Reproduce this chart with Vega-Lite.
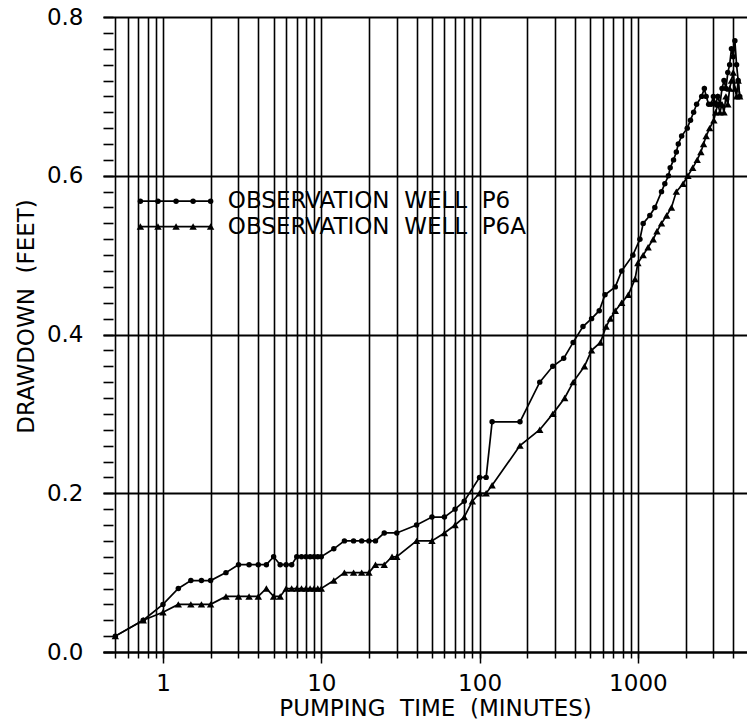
{
  "$schema": "https://vega.github.io/schema/vega-lite/v6.json",
  "width": 644,
  "height": 635,
  "autosize": {"type": "none"},
  "padding": {"left": 103, "top": 17, "right": 0, "bottom": 76},
  "background": "white",
  "config": {
    "view": {"stroke": null},
    "axis": {"labelFont": "DejaVu Sans", "labelFontSize": 23, "labelColor": "black", "titleFont": "DejaVu Sans", "titleFontSize": 23, "titleFontWeight": "normal", "titleColor": "black", "tickColor": "black", "domainColor": "black", "gridColor": "black", "gridOpacity": 1}
  },
  "datasets": {
    "obs": [
      {"series": "P6", "t": 0.5, "d": 0.02}, {"series": "P6", "t": 0.75, "d": 0.04}, {"series": "P6", "t": 1.0, "d": 0.06},
      {"series": "P6", "t": 1.25, "d": 0.08}, {"series": "P6", "t": 1.5, "d": 0.09}, {"series": "P6", "t": 1.75, "d": 0.09},
      {"series": "P6", "t": 2.0, "d": 0.09}, {"series": "P6", "t": 2.5, "d": 0.10}, {"series": "P6", "t": 3.0, "d": 0.11},
      {"series": "P6", "t": 3.5, "d": 0.11}, {"series": "P6", "t": 4.0, "d": 0.11}, {"series": "P6", "t": 4.5, "d": 0.11},
      {"series": "P6", "t": 5.0, "d": 0.12}, {"series": "P6", "t": 5.5, "d": 0.11}, {"series": "P6", "t": 6.0, "d": 0.11},
      {"series": "P6", "t": 6.5, "d": 0.11}, {"series": "P6", "t": 7.0, "d": 0.12}, {"series": "P6", "t": 7.5, "d": 0.12},
      {"series": "P6", "t": 8.0, "d": 0.12}, {"series": "P6", "t": 8.5, "d": 0.12}, {"series": "P6", "t": 9.0, "d": 0.12},
      {"series": "P6", "t": 9.5, "d": 0.12}, {"series": "P6", "t": 10, "d": 0.12}, {"series": "P6", "t": 12, "d": 0.13},
      {"series": "P6", "t": 14, "d": 0.14}, {"series": "P6", "t": 16, "d": 0.14}, {"series": "P6", "t": 18, "d": 0.14},
      {"series": "P6", "t": 20, "d": 0.14}, {"series": "P6", "t": 22, "d": 0.14}, {"series": "P6", "t": 25, "d": 0.15},
      {"series": "P6", "t": 30, "d": 0.15}, {"series": "P6", "t": 40, "d": 0.16}, {"series": "P6", "t": 50, "d": 0.17},
      {"series": "P6", "t": 60, "d": 0.17}, {"series": "P6", "t": 70, "d": 0.18}, {"series": "P6", "t": 80, "d": 0.19},
      {"series": "P6", "t": 100, "d": 0.22}, {"series": "P6", "t": 110, "d": 0.22}, {"series": "P6", "t": 120, "d": 0.29},
      {"series": "P6", "t": 180, "d": 0.29}, {"series": "P6", "t": 240, "d": 0.34}, {"series": "P6", "t": 290, "d": 0.36},
      {"series": "P6", "t": 340, "d": 0.37}, {"series": "P6", "t": 390, "d": 0.39}, {"series": "P6", "t": 450, "d": 0.41},
      {"series": "P6", "t": 510, "d": 0.42}, {"series": "P6", "t": 570, "d": 0.43}, {"series": "P6", "t": 620, "d": 0.45},
      {"series": "P6", "t": 720, "d": 0.46}, {"series": "P6", "t": 790, "d": 0.48}, {"series": "P6", "t": 930, "d": 0.50},
      {"series": "P6", "t": 1030, "d": 0.52}, {"series": "P6", "t": 1080, "d": 0.54}, {"series": "P6", "t": 1190, "d": 0.55},
      {"series": "P6", "t": 1280, "d": 0.56}, {"series": "P6", "t": 1410, "d": 0.58}, {"series": "P6", "t": 1480, "d": 0.59},
      {"series": "P6", "t": 1560, "d": 0.60}, {"series": "P6", "t": 1600, "d": 0.61}, {"series": "P6", "t": 1680, "d": 0.62},
      {"series": "P6", "t": 1750, "d": 0.63}, {"series": "P6", "t": 1800, "d": 0.64}, {"series": "P6", "t": 1890, "d": 0.65},
      {"series": "P6", "t": 2050, "d": 0.66}, {"series": "P6", "t": 2150, "d": 0.67}, {"series": "P6", "t": 2250, "d": 0.68},
      {"series": "P6", "t": 2350, "d": 0.69}, {"series": "P6", "t": 2530, "d": 0.70}, {"series": "P6", "t": 2630, "d": 0.71},
      {"series": "P6", "t": 2700, "d": 0.70}, {"series": "P6", "t": 2800, "d": 0.69}, {"series": "P6", "t": 2900, "d": 0.69},
      {"series": "P6", "t": 3000, "d": 0.70}, {"series": "P6", "t": 3100, "d": 0.69}, {"series": "P6", "t": 3200, "d": 0.70},
      {"series": "P6", "t": 3300, "d": 0.69}, {"series": "P6", "t": 3400, "d": 0.71}, {"series": "P6", "t": 3500, "d": 0.72},
      {"series": "P6", "t": 3600, "d": 0.71}, {"series": "P6", "t": 3700, "d": 0.73}, {"series": "P6", "t": 3800, "d": 0.74},
      {"series": "P6", "t": 3900, "d": 0.76}, {"series": "P6", "t": 4000, "d": 0.75}, {"series": "P6", "t": 4100, "d": 0.77},
      {"series": "P6", "t": 4200, "d": 0.74}, {"series": "P6", "t": 4300, "d": 0.72}, {"series": "P6", "t": 4400, "d": 0.70},
      {"series": "P6A", "t": 0.5, "d": 0.02}, {"series": "P6A", "t": 0.75, "d": 0.04}, {"series": "P6A", "t": 1.0, "d": 0.05},
      {"series": "P6A", "t": 1.25, "d": 0.06}, {"series": "P6A", "t": 1.5, "d": 0.06}, {"series": "P6A", "t": 1.75, "d": 0.06},
      {"series": "P6A", "t": 2.0, "d": 0.06}, {"series": "P6A", "t": 2.5, "d": 0.07}, {"series": "P6A", "t": 3.0, "d": 0.07},
      {"series": "P6A", "t": 3.5, "d": 0.07}, {"series": "P6A", "t": 4.0, "d": 0.07}, {"series": "P6A", "t": 4.5, "d": 0.08},
      {"series": "P6A", "t": 5.0, "d": 0.07}, {"series": "P6A", "t": 5.5, "d": 0.07}, {"series": "P6A", "t": 6.0, "d": 0.08},
      {"series": "P6A", "t": 6.5, "d": 0.08}, {"series": "P6A", "t": 7.0, "d": 0.08}, {"series": "P6A", "t": 7.5, "d": 0.08},
      {"series": "P6A", "t": 8.0, "d": 0.08}, {"series": "P6A", "t": 8.5, "d": 0.08}, {"series": "P6A", "t": 9.0, "d": 0.08},
      {"series": "P6A", "t": 9.5, "d": 0.08}, {"series": "P6A", "t": 10, "d": 0.08}, {"series": "P6A", "t": 12, "d": 0.09},
      {"series": "P6A", "t": 14, "d": 0.10}, {"series": "P6A", "t": 16, "d": 0.10}, {"series": "P6A", "t": 18, "d": 0.10},
      {"series": "P6A", "t": 20, "d": 0.10}, {"series": "P6A", "t": 22, "d": 0.11}, {"series": "P6A", "t": 25, "d": 0.11},
      {"series": "P6A", "t": 28, "d": 0.12}, {"series": "P6A", "t": 30, "d": 0.12}, {"series": "P6A", "t": 40, "d": 0.14},
      {"series": "P6A", "t": 50, "d": 0.14}, {"series": "P6A", "t": 60, "d": 0.15}, {"series": "P6A", "t": 70, "d": 0.16},
      {"series": "P6A", "t": 80, "d": 0.17}, {"series": "P6A", "t": 90, "d": 0.19}, {"series": "P6A", "t": 100, "d": 0.20},
      {"series": "P6A", "t": 110, "d": 0.20}, {"series": "P6A", "t": 120, "d": 0.21}, {"series": "P6A", "t": 180, "d": 0.26},
      {"series": "P6A", "t": 240, "d": 0.28}, {"series": "P6A", "t": 290, "d": 0.30}, {"series": "P6A", "t": 345, "d": 0.32},
      {"series": "P6A", "t": 390, "d": 0.34}, {"series": "P6A", "t": 460, "d": 0.36}, {"series": "P6A", "t": 510, "d": 0.38},
      {"series": "P6A", "t": 580, "d": 0.39}, {"series": "P6A", "t": 630, "d": 0.41}, {"series": "P6A", "t": 670, "d": 0.42},
      {"series": "P6A", "t": 720, "d": 0.43}, {"series": "P6A", "t": 790, "d": 0.44}, {"series": "P6A", "t": 870, "d": 0.45},
      {"series": "P6A", "t": 960, "d": 0.47}, {"series": "P6A", "t": 1000, "d": 0.49}, {"series": "P6A", "t": 1080, "d": 0.50},
      {"series": "P6A", "t": 1160, "d": 0.51}, {"series": "P6A", "t": 1250, "d": 0.52}, {"series": "P6A", "t": 1320, "d": 0.53},
      {"series": "P6A", "t": 1410, "d": 0.54}, {"series": "P6A", "t": 1520, "d": 0.55}, {"series": "P6A", "t": 1630, "d": 0.56},
      {"series": "P6A", "t": 1750, "d": 0.58}, {"series": "P6A", "t": 1930, "d": 0.59}, {"series": "P6A", "t": 2070, "d": 0.60},
      {"series": "P6A", "t": 2220, "d": 0.61}, {"series": "P6A", "t": 2370, "d": 0.62}, {"series": "P6A", "t": 2500, "d": 0.63},
      {"series": "P6A", "t": 2600, "d": 0.64}, {"series": "P6A", "t": 2700, "d": 0.65}, {"series": "P6A", "t": 2840, "d": 0.66},
      {"series": "P6A", "t": 3020, "d": 0.67}, {"series": "P6A", "t": 3100, "d": 0.68}, {"series": "P6A", "t": 3200, "d": 0.69},
      {"series": "P6A", "t": 3300, "d": 0.68}, {"series": "P6A", "t": 3400, "d": 0.69}, {"series": "P6A", "t": 3500, "d": 0.68},
      {"series": "P6A", "t": 3600, "d": 0.70}, {"series": "P6A", "t": 3700, "d": 0.69}, {"series": "P6A", "t": 3800, "d": 0.71},
      {"series": "P6A", "t": 3900, "d": 0.72}, {"series": "P6A", "t": 4000, "d": 0.73}, {"series": "P6A", "t": 4100, "d": 0.71},
      {"series": "P6A", "t": 4200, "d": 0.70}, {"series": "P6A", "t": 4300, "d": 0.72}, {"series": "P6A", "t": 4400, "d": 0.70}
    ],
    "legendMarks": [
      {"series": "P6", "t": 0.72, "d": 0.568}, {"series": "P6", "t": 0.93, "d": 0.568}, {"series": "P6", "t": 1.21, "d": 0.568},
      {"series": "P6", "t": 1.55, "d": 0.568}, {"series": "P6", "t": 2.0, "d": 0.568},
      {"series": "P6A", "t": 0.72, "d": 0.536}, {"series": "P6A", "t": 0.93, "d": 0.536}, {"series": "P6A", "t": 1.21, "d": 0.536},
      {"series": "P6A", "t": 1.55, "d": 0.536}, {"series": "P6A", "t": 2.0, "d": 0.536}
    ],
    "legendText": [
      {"series": "P6", "t": 2.57, "d": 0.568, "label": "OBSERVATION\u00a0\u00a0WELL\u00a0\u00a0P6"},
      {"series": "P6A", "t": 2.57, "d": 0.536, "label": "OBSERVATION\u00a0\u00a0WELL\u00a0\u00a0P6A"}
    ]
  },
  "resolve": {"axis": {"x": "independent", "y": "independent"}},
  "layer": [
    {
      "data": {"name": "obs"},
      "mark": {"type": "line", "color": "black", "strokeWidth": 1.7, "clip": true},
      "encoding": {
        "x": {"field": "t", "type": "quantitative",
          "scale": {"type": "log", "domain": [0.418, 4890], "nice": false, "zero": false},
          "axis": {"orient": "bottom", "values": [0.5,0.6,0.7,0.8,0.9,1,2,3,4,5,6,7,8,9,10,20,30,40,50,60,70,80,90,100,200,300,400,500,600,700,800,900,1000,2000,3000,4000],
            "grid": true, "gridWidth": 1.6, "labels": false, "ticks": true, "tickSize": 6, "tickWidth": 1.5,
            "domain": true, "domainWidth": 2, "title": null}},
        "y": {"field": "d", "type": "quantitative",
          "scale": {"domain": [0, 0.8], "nice": false, "zero": true},
          "axis": {"orient": "left",
            "values": [0,0.02,0.04,0.06,0.08,0.1,0.12,0.14,0.16,0.18,0.2,0.22,0.24,0.26,0.28,0.3,0.32,0.34,0.36,0.38,0.4,0.42,0.44,0.46,0.48,0.5,0.52,0.54,0.56,0.58,0.6,0.62,0.64,0.66,0.68,0.7,0.72,0.74,0.76,0.78,0.8],
            "labelExpr": "indexof([0, 0.2, 0.4, 0.6, 0.8], datum.value) >= 0 ? format(datum.value, '.1f') : ''",
            "grid": true, "gridWidth": 2,
            "gridOpacity": {"condition": {"test": "indexof([0, 0.2, 0.4, 0.6, 0.8], datum.value) >= 0", "value": 1}, "value": 0},
            "ticks": true, "tickSize": -10, "tickColor": "black", "tickWidth": 1.6, "domain": false, "labelPadding": 30, "labelOverlap": false,
            "title": "DRAWDOWN\u00a0\u00a0(FEET)", "titleX": -70, "titleY": 299, "titleAngle": 270, "titleAlign": "center", "titleBaseline": "alphabetic"}},
        "detail": {"field": "series"}
      }
    },
    {
      "data": {"name": "obs"},
      "mark": {"type": "point", "filled": true, "color": "black", "opacity": 1, "clip": true},
      "encoding": {
        "x": {"field": "t", "type": "quantitative",
          "axis": {"orient": "bottom", "values": [1, 10, 100, 1000], "format": "d", "grid": false, "domain": false, "ticks": true, "tickSize": 11, "tickWidth": 1.5,
            "labelPadding": 9, "title": "PUMPING\u00a0\u00a0TIME\u00a0\u00a0(MINUTES)", "titleX": 332, "titleY": 63, "titleAlign": "center", "titleBaseline": "alphabetic"}},
        "y": {"field": "d", "type": "quantitative", "axis": null},
        "shape": {"field": "series", "type": "nominal", "scale": {"domain": ["P6", "P6A"], "range": ["circle", "triangle-up"]}, "legend": null},
        "size": {"field": "series", "type": "nominal", "scale": {"domain": ["P6", "P6A"], "range": [30, 55]}, "legend": null}
      }
    },
    {
      "data": {"name": "legendMarks"},
      "mark": {"type": "line", "color": "black", "strokeWidth": 1.7},
      "encoding": {
        "x": {"field": "t", "type": "quantitative", "axis": null},
        "y": {"field": "d", "type": "quantitative", "axis": null},
        "detail": {"field": "series"}
      }
    },
    {
      "data": {"name": "legendMarks"},
      "mark": {"type": "point", "filled": true, "color": "black", "opacity": 1},
      "encoding": {
        "x": {"field": "t", "type": "quantitative", "axis": null},
        "y": {"field": "d", "type": "quantitative", "axis": null},
        "shape": {"field": "series", "type": "nominal", "legend": null},
        "size": {"field": "series", "type": "nominal", "legend": null}
      }
    },
    {
      "data": {"name": "legendText"},
      "mark": {"type": "text", "font": "DejaVu Sans", "fontSize": 23, "color": "black", "align": "left", "baseline": "middle"},
      "encoding": {
        "x": {"field": "t", "type": "quantitative", "axis": null},
        "y": {"field": "d", "type": "quantitative", "axis": null},
        "text": {"field": "label"}
      }
    }
  ]
}
